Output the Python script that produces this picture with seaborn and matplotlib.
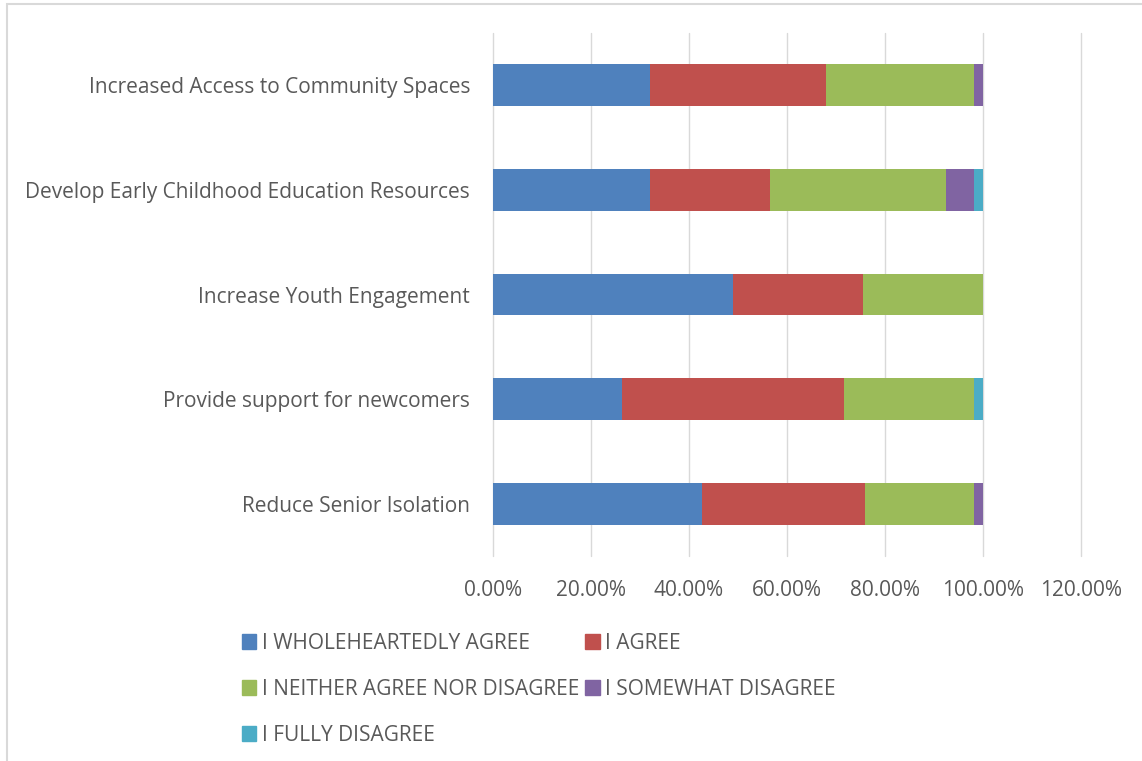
import numpy as np
import pandas as pd
import matplotlib
matplotlib.use('Agg')
import matplotlib.pyplot as plt
import matplotlib.patches as mpatches
from matplotlib.ticker import FuncFormatter, MultipleLocator
import seaborn as sns

# data (percent of respondents)
categories = ['Increased Access to Community Spaces',
              'Develop Early Childhood Education Resources',
              'Increase Youth Engagement',
              'Provide support for newcomers',
              'Reduce Senior Isolation']
responses = ['I WHOLEHEARTEDLY AGREE', 'I AGREE',
             'I NEITHER AGREE NOR DISAGREE', 'I SOMEWHAT DISAGREE',
             'I FULLY DISAGREE']
wholeheartedly = [32.08, 32.08, 49.06, 26.42, 42.59]
agree = [35.85, 24.53, 26.42, 45.28, 33.33]
neither = [30.19, 35.85, 24.53, 26.42, 22.22]
somewhat = [1.89, 5.66, 0.0, 0.0, 1.85]
fully = [0.0, 1.89, 0.0, 1.89, 0.0]

colors = ['#4f81bd', '#c0504d', '#9bbb59', '#8064a2', '#4bacc6']
text_color = '#595959'
grid_color = '#d9d9d9'
fs = 15

sns.set_theme(style='white')
plt.rcParams['font.family'] = ['Open Sans', 'DejaVu Sans']

fig = plt.figure(figsize=(11.42, 7.61), dpi=100)
ax = fig.add_axes([493 / 1142, 1 - 556 / 761, 588 / 1142, 523 / 761])

# cumulative totals so the stacked segments can be overlaid
series = [wholeheartedly, agree, neither, somewhat, fully]
cum = np.cumsum(np.array(series), axis=0)
for i in range(len(responses) - 1, -1, -1):
    df = pd.DataFrame({'category': categories, 'value': cum[i] / 100})
    sns.barplot(data=df, x='value', y='category', order=categories,
                color=colors[i], width=0.4, orient='h', ax=ax,
                saturation=1, linewidth=0)

ax.set_xlim(0, 1.2)
ax.set_ylim(4.5, -0.5)
ax.xaxis.set_major_locator(MultipleLocator(0.2))
ax.xaxis.set_major_formatter(FuncFormatter(lambda v, p: f'{v * 100:.2f}%'))
ax.set_xlabel('')
ax.set_ylabel('')
ax.grid(axis='x', color=grid_color, linewidth=1.0)
ax.set_axisbelow(True)
for line in ax.get_xgridlines():
    line.set_clip_on(False)
for s in ax.spines.values():
    s.set_visible(False)
ax.tick_params(axis='both', length=0, labelsize=fs, colors=text_color)
ax.tick_params(axis='x', pad=17)
ax.tick_params(axis='y', pad=16.5)

# legend, filled column-wise so it reads row by row
handles = [mpatches.Patch(color=c) for c in colors]
idx = [0, 2, 4, 1, 3]
leg = fig.legend([handles[i] for i in idx], [responses[i] for i in idx],
                 ncol=2, loc='upper left',
                 bbox_to_anchor=(223 / 1142, 1 - 614 / 761),
                 frameon=False, fontsize=fs, handlelength=0.7,
                 handleheight=0.7, handletextpad=0.25,
                 labelspacing=1.2, columnspacing=0.3,
                 labelcolor=text_color)

# outer chart frame
fig.patches.append(mpatches.Rectangle((7 / 1142, -0.05), 1.1, 1.05 - 4 / 761,
                                      transform=fig.transFigure,
                                      fill=False, edgecolor=grid_color,
                                      linewidth=1.5))

fig.savefig('out.png', dpi=100)
